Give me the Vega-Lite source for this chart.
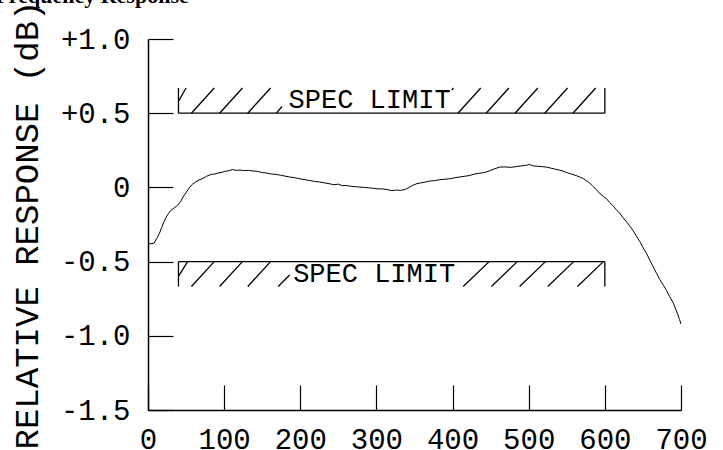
{
  "$schema": "https://vega.github.io/schema/vega-lite/v6.json",
  "width": 533,
  "height": 371,
  "autosize": {"type": "none"},
  "padding": {"left": 148, "top": 39, "right": 42, "bottom": 40},
  "title": {
    "text": "Frequency Response",
    "anchor": "start",
    "frame": "bounds",
    "font": "Liberation Serif",
    "fontSize": 22,
    "fontWeight": "bold",
    "color": "black",
    "baseline": "alphabetic",
    "offset": 0,
    "dy": 25,
    "dx": -15
  },
  "config": {
    "view": {"stroke": null},
    "axis": {
      "domainColor": "black",
      "domainWidth": 1.5,
      "tickColor": "black",
      "tickWidth": 1.2,
      "tickSize": -25,
      "grid": false,
      "labelFont": "Liberation Mono",
      "labelFontSize": 29,
      "labelColor": "black",
      "labelOverlap": false,
      "labelBound": false,
      "labelFlush": false,
      "titleFont": "Liberation Mono",
      "titleFontSize": 34,
      "titleFontWeight": "normal",
      "titleColor": "black"
    }
  },
  "datasets": {
    "curve": [
      {"x":0,"y":-0.375},{"x":4,"y":-0.38},{"x":8,"y":-0.375},{"x":12,"y":-0.34},{"x":15,"y":-0.31},
      {"x":18,"y":-0.27},{"x":21,"y":-0.23},{"x":24,"y":-0.2},{"x":27,"y":-0.175},{"x":30,"y":-0.155},
      {"x":34,"y":-0.14},{"x":39,"y":-0.12},{"x":43,"y":-0.095},{"x":46,"y":-0.065},{"x":50,"y":-0.035},
      {"x":54,"y":-0.005},{"x":58,"y":0.02},{"x":62,"y":0.035},{"x":67,"y":0.05},{"x":72,"y":0.06},
      {"x":77,"y":0.075},{"x":83,"y":0.088},{"x":88,"y":0.09},{"x":92,"y":0.097},{"x":96,"y":0.1},
      {"x":101,"y":0.108},{"x":106,"y":0.112},{"x":111,"y":0.12},{"x":116,"y":0.115},{"x":121,"y":0.117},
      {"x":127,"y":0.113},{"x":132,"y":0.115},{"x":138,"y":0.11},{"x":144,"y":0.108},{"x":150,"y":0.1},
      {"x":156,"y":0.097},{"x":162,"y":0.09},{"x":168,"y":0.088},{"x":174,"y":0.082},{"x":180,"y":0.076},
      {"x":186,"y":0.07},{"x":192,"y":0.066},{"x":199,"y":0.058},{"x":206,"y":0.052},{"x":212,"y":0.047},
      {"x":219,"y":0.04},{"x":225,"y":0.037},{"x":232,"y":0.03},{"x":238,"y":0.025},{"x":244,"y":0.018},
      {"x":250,"y":0.022},{"x":255,"y":0.012},{"x":260,"y":0.013},{"x":266,"y":0.008},{"x":272,"y":0.005},
      {"x":278,"y":0.002},{"x":284,"y":0.0},{"x":290,"y":-0.003},{"x":296,"y":-0.006},{"x":302,"y":-0.01},
      {"x":308,"y":-0.01},{"x":314,"y":-0.015},{"x":320,"y":-0.022},{"x":326,"y":-0.018},{"x":332,"y":-0.02},
      {"x":338,"y":-0.013},{"x":343,"y":0.0},{"x":348,"y":0.015},{"x":353,"y":0.025},{"x":358,"y":0.03},
      {"x":364,"y":0.036},{"x":370,"y":0.043},{"x":376,"y":0.045},{"x":383,"y":0.052},{"x":390,"y":0.055},
      {"x":396,"y":0.058},{"x":403,"y":0.065},{"x":409,"y":0.07},{"x":416,"y":0.075},{"x":422,"y":0.08},
      {"x":429,"y":0.09},{"x":436,"y":0.096},{"x":442,"y":0.1},{"x":449,"y":0.113},{"x":455,"y":0.125},
      {"x":462,"y":0.137},{"x":469,"y":0.138},{"x":476,"y":0.135},{"x":484,"y":0.14},{"x":490,"y":0.145},
      {"x":496,"y":0.148},{"x":501,"y":0.155},{"x":506,"y":0.145},{"x":512,"y":0.142},{"x":518,"y":0.14},
      {"x":523,"y":0.137},{"x":529,"y":0.13},{"x":534,"y":0.124},{"x":540,"y":0.117},{"x":545,"y":0.11},
      {"x":551,"y":0.098},{"x":556,"y":0.09},{"x":562,"y":0.08},{"x":567,"y":0.07},{"x":572,"y":0.058},
      {"x":576,"y":0.045},{"x":580,"y":0.03},{"x":584.5,"y":0.007},{"x":589,"y":-0.015},{"x":593,"y":-0.04},
      {"x":598,"y":-0.06},{"x":602,"y":-0.076},{"x":606,"y":-0.1},{"x":611,"y":-0.125},{"x":615,"y":-0.15},
      {"x":620,"y":-0.177},{"x":624,"y":-0.205},{"x":629,"y":-0.235},{"x":633,"y":-0.262},{"x":637,"y":-0.29},
      {"x":641,"y":-0.325},{"x":646,"y":-0.365},{"x":650,"y":-0.405},{"x":655,"y":-0.447},{"x":659,"y":-0.49},
      {"x":663,"y":-0.53},{"x":668,"y":-0.58},{"x":672,"y":-0.62},{"x":677,"y":-0.66},{"x":681,"y":-0.694},
      {"x":685,"y":-0.735},{"x":690,"y":-0.78},{"x":693,"y":-0.82},{"x":696,"y":-0.86},{"x":698,"y":-0.89},
      {"x":700,"y":-0.92}
    ],
    "segs": [
      {"x":40,"y":0.5,"x2":600,"y2":0.5},
      {"x":40,"y":0.5,"x2":40,"y2":0.67},
      {"x":600,"y":0.5,"x2":600,"y2":0.67},
      {"x":40,"y":0.58,"x2":50,"y2":0.67},
      {"x":57,"y":0.5,"x2":87,"y2":0.67},
      {"x":94,"y":0.5,"x2":124,"y2":0.67},
      {"x":131,"y":0.5,"x2":161,"y2":0.67},
      {"x":168.5,"y":0.5,"x2":176,"y2":0.545},
      {"x":399,"y":0.655,"x2":401,"y2":0.67},
      {"x":407,"y":0.5,"x2":437,"y2":0.67},
      {"x":444,"y":0.5,"x2":474,"y2":0.67},
      {"x":482,"y":0.5,"x2":512,"y2":0.67},
      {"x":521,"y":0.5,"x2":551,"y2":0.67},
      {"x":558,"y":0.5,"x2":588,"y2":0.67},
      {"x":40,"y":-0.5,"x2":600,"y2":-0.5},
      {"x":40,"y":-0.5,"x2":40,"y2":-0.668},
      {"x":600,"y":-0.5,"x2":600,"y2":-0.668},
      {"x":40,"y":-0.6,"x2":52,"y2":-0.5},
      {"x":57,"y":-0.668,"x2":87,"y2":-0.5},
      {"x":94,"y":-0.668,"x2":124,"y2":-0.5},
      {"x":131,"y":-0.668,"x2":161,"y2":-0.5},
      {"x":171,"y":-0.668,"x2":186,"y2":-0.59},
      {"x":414,"y":-0.668,"x2":448,"y2":-0.5},
      {"x":451,"y":-0.668,"x2":485,"y2":-0.5},
      {"x":488,"y":-0.668,"x2":522,"y2":-0.5},
      {"x":525,"y":-0.668,"x2":559,"y2":-0.5},
      {"x":564,"y":-0.668,"x2":598,"y2":-0.5}
    ],
    "notes": [
      {"x":291,"y":0.537,"label":"SPEC LIMIT"},
      {"x":297,"y":-0.638,"label":"SPEC LIMIT"}
    ]
  },
  "layer": [
    {
      "data": {"name": "segs"},
      "mark": {"type": "rule", "color": "black", "strokeWidth": 1.3},
      "encoding": {
        "x": {
          "field": "x", "type": "quantitative",
          "scale": {"domain": [0, 700], "nice": false, "zero": false},
          "axis": {
            "values": [0, 100, 200, 300, 400, 500, 600, 700],
            "format": "d",
            "labelPadding": 40,
            "title": null
          }
        },
        "y": {
          "field": "y", "type": "quantitative",
          "scale": {"domain": [-1.5, 1.0], "nice": false, "zero": false},
          "axis": {
            "values": [-1.5, -1.0, -0.5, 0, 0.5, 1.0],
            "labelExpr": "datum.value == 0 ? '0' : (datum.value > 0 ? '+' : '-') + format(abs(datum.value), '.1f')",
            "labelPadding": 43,
            "title": "RELATIVE RESPONSE (dB)",
            "titlePadding": 16
          }
        },
        "x2": {"field": "x2"},
        "y2": {"field": "y2"}
      }
    },
    {
      "data": {"name": "curve"},
      "mark": {"type": "line", "color": "black", "strokeWidth": 1.0},
      "encoding": {
        "x": {"field": "x", "type": "quantitative"},
        "y": {"field": "y", "type": "quantitative"}
      }
    },
    {
      "data": {"name": "notes"},
      "mark": {"type": "text", "font": "Liberation Mono", "fontSize": 27, "align": "center", "baseline": "alphabetic", "color": "black"},
      "encoding": {
        "x": {"field": "x", "type": "quantitative"},
        "y": {"field": "y", "type": "quantitative"},
        "text": {"field": "label"}
      }
    }
  ]
}
